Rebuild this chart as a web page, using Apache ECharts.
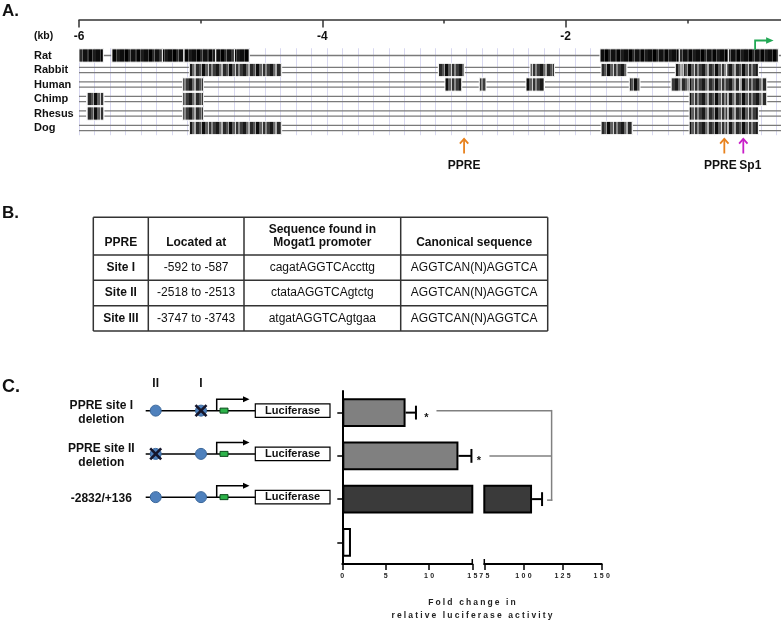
<!DOCTYPE html>
<html><head><meta charset="utf-8">
<script src="https://cdn.jsdelivr.net/npm/echarts@6/dist/echarts.min.js"></script>
<style>html,body{margin:0;padding:0;background:#fff}#c{width:781px;height:623px}</style>
</head><body><div id="c"></div>
<script>
// ---------- Panel A data ----------
const species = ['Rat', 'Rabbit', 'Human', 'Chimp', 'Rhesus', 'Dog'];
const ratBlocks    = [[-6.0,-5.80],[-5.731,-5.315],[-5.315,-5.137],[-5.137,-4.876],[-4.876,-4.723],[-4.723,-4.60],[-1.718,-1.066],[-1.066,-0.663],[-0.663,-0.252]];
const rabbitBlocks = [[-5.093,-4.334],[-3.047,-2.833],[-2.293,-2.093],[-1.709,-1.496],[-1.099,-1.034],[-1.034,-0.676],[-0.676,-0.416]];
const humanBlocks  = [[-5.148,-4.978],[-2.992,-2.854],[-2.710,-2.655],[-2.326,-2.174],[-1.477,-1.389],[-1.134,-0.985],[-0.985,-0.567],[-0.567,-0.347]];
const chimpBlocks  = [[-5.937,-5.795],[-5.148,-4.978],[-0.985,-0.665],[-0.665,-0.347]];
const rhesusBlocks = [[-5.937,-5.795],[-5.148,-4.978],[-0.985,-0.665],[-0.665,-0.416]];
const dogBlocks    = [[-5.093,-4.334],[-1.709,-1.452],[-0.985,-0.665],[-0.665,-0.416]];
const kbRange = [-6, 0];
const motifLabels = ['PPRE', 'PPRE', 'Sp1'];
const motifPositions = [-2.835, -0.696, -0.540];
const tssPosition = -0.443;

// ---------- Panel B data ----------
const tableHeader = ['PPRE', 'Located at', 'Sequence found in\nMogat1 promoter', 'Canonical sequence'];
const siteNames = ['Site I', 'Site II', 'Site III'];
const siteLocations = ['-592 to -587', '-2518 to -2513', '-3747 to -3743'];
const siteSequences = ['cagatAGGTCAccttg', 'ctataAGGTCAgtctg', 'atgatAGGTCAgtgaa'];
const canonicalSeqs = ['AGGTCAN(N)AGGTCA', 'AGGTCAN(N)AGGTCA', 'AGGTCAN(N)AGGTCA'];

// ---------- Panel C data ----------
const constructs = ['', '-2832/+136', 'PPRE site II\ndeletion', 'PPRE site I\ndeletion'];
const foldChange = [1.0, 105.5, 13.4, 7.3];
const foldSEM = [0, 6.4, 1.5, 1.2];
const lowRange = [0, 15];
const highRange = [75, 150];

// ---------- styles ----------
const FF = '"Liberation Sans", Arial, Helvetica, sans-serif';
const barColors = ['#ffffff', '#3a3a3a', '#808080', '#808080'];
const speciesTexture = [0, 1, 1, 1, 1, 1];
const darkStripes = [[4,'#0d0d0d'],[1,'#4a4a4a'],[3,'#000'],[2,'#2a2a2a'],[1,'#666'],[4,'#111'],[2,'#3a3a3a'],[3,'#050505'],[1,'#555'],[3,'#1c1c1c']];
const midStripes = [[3,'#1a1a1a'],[2,'#6a6a6a'],[2,'#b0b0b0'],[3,'#2a2a2a'],[2,'#555'],[1,'#a0a0a0'],[3,'#0e0e0e'],[3,'#606060'],[1,'#cfcfcf'],[2,'#333'],[2,'#8a8a8a'],[3,'#3c3c3c']];
function makePattern(stripes) {
  const w = stripes.reduce((a, s) => a + s[0], 0);
  const c = document.createElement('canvas'); c.width = w; c.height = 4;
  const ctx = c.getContext('2d'); let x = 0;
  stripes.forEach(([sw, col]) => { ctx.fillStyle = col; ctx.fillRect(x, 0, sw, 4); x += sw; });
  return c;
}
const patterns = [makePattern(darkStripes), makePattern(midStripes)];
const allBlocks = [ratBlocks, rabbitBlocks, humanBlocks, chimpBlocks, rhesusBlocks, dogBlocks];
const blockData = [];
allBlocks.forEach((bl, row) => bl.forEach(b => blockData.push([b[0], b[1], row, speciesTexture[row]])));

const spaced = (s, sp) => String(s).split('').join(sp);

function renderRow(params, api) {
  const row = api.value(1);
  const a = api.coord([kbRange[0], row]), b = api.coord([kbRange[1], row]);
  const offs = row === 0 ? [0] : [-2.6, 2.6];
  return { type: 'group', children: offs.map(o => ({ type: 'line',
    shape: { x1: a[0], y1: a[1] + o, x2: b[0], y2: b[1] + o },
    style: { stroke: '#7a7a7a', lineWidth: 1.4 } })) };
}
function renderBlock(params, api) {
  const s = api.value(0), e = api.value(1), row = api.value(2), t = api.value(3);
  const p1 = api.coord([s, row]), p2 = api.coord([e, row]);
  const h = api.size([0, 1])[1] * 0.92;
  return { type: 'rect', shape: { x: p1[0], y: p1[1] - h / 2, width: p2[0] - p1[0], height: h },
    style: { fill: { image: patterns[t], repeat: 'repeat' }, stroke: '#fff', lineWidth: 1 } };
}
function errRenderer(lo, hi) {
  return function (params, api) {
    const cat = api.value(0), m = api.value(1), e = api.value(2);
    if (!(e > 0) || m < lo || m + e > hi + 0.5) return null;
    const a = api.coord([m, cat]), b = api.coord([m + e, cat]);
    const h = api.size([0, 1])[1] * 0.32;
    return { type: 'group', children: [
      { type: 'line', shape: { x1: a[0], y1: a[1], x2: b[0], y2: b[1] }, style: { stroke: '#000', lineWidth: 2 } },
      { type: 'line', shape: { x1: b[0], y1: b[1] - h / 2, x2: b[0], y2: b[1] + h / 2 }, style: { stroke: '#000', lineWidth: 2 } }
    ] };
  };
}

const lowAxisLabel = { color: '#222', fontSize: 7, fontWeight: 'bold', fontFamily: FF, margin: 9,
  formatter: v => spaced(v, '\u2004') };

const option = {
  animation: false,
  backgroundColor: '#fff',
  grid: [
    { left: 79, top: 48.25, width: 730, height: 87, outerBoundsMode: 'none', containLabel: false },
    { left: 342.3, top: 391, width: 130, height: 173, outerBoundsMode: 'none', containLabel: false },
    { left: 484.3, top: 391, width: 117.4, height: 173, outerBoundsMode: 'none', containLabel: false }
  ],
  xAxis: [
    { gridIndex: 0, type: 'value', min: kbRange[0], max: kbRange[1], interval: 2, position: 'top', offset: 28.25,
      axisLine: { show: true, lineStyle: { color: '#333', width: 1.5 } },
      axisTick: { show: true, inside: true, length: 7.5, lineStyle: { color: '#333', width: 1.5 } },
      minorTick: { show: true, splitNumber: 2, length: 3.5, lineStyle: { color: '#333', width: 1.5 } },
      axisLabel: { inside: true, margin: 11, color: '#111', fontSize: 12, fontWeight: 'bold', fontFamily: FF },
      splitLine: { show: false } },
    { gridIndex: 0, type: 'value', min: 0, max: 730 / 15.5, interval: 1, position: 'bottom',
      axisLine: { show: false }, axisTick: { show: false }, axisLabel: { show: false },
      splitLine: { show: true, lineStyle: { color: '#d8d8f0', width: 1 } } },
    { gridIndex: 1, type: 'value', min: lowRange[0], max: lowRange[1], interval: 5,
      axisLine: { show: true, onZero: false, lineStyle: { color: '#000', width: 2 } },
      axisTick: { show: true, length: 6, lineStyle: { color: '#000', width: 1.5 } },
      axisLabel: lowAxisLabel, splitLine: { show: false } },
    { gridIndex: 2, type: 'value', min: highRange[0], max: highRange[1], interval: 25,
      axisLine: { show: true, onZero: false, lineStyle: { color: '#000', width: 2 } },
      axisTick: { show: true, length: 6, lineStyle: { color: '#000', width: 1.5 } },
      axisLabel: lowAxisLabel, splitLine: { show: false } }
  ],
  yAxis: [
    { gridIndex: 0, type: 'category', data: species, inverse: true,
      axisLine: { show: false }, axisTick: { show: false }, splitLine: { show: false },
      axisLabel: { align: 'left', margin: 45, color: '#111', fontSize: 11, fontWeight: 'bold', fontFamily: FF } },
    { gridIndex: 1, type: 'category', data: constructs,
      axisLine: { show: true, onZero: false, lineStyle: { color: '#000', width: 2 } },
      axisTick: { show: true, alignWithLabel: true, length: 5, lineStyle: { color: '#000', width: 1.5 } },
      axisLabel: { align: 'center', margin: 241, color: '#111', fontSize: 12, fontWeight: 'bold', fontFamily: FF, lineHeight: 14 },
      splitLine: { show: false } },
    { gridIndex: 2, type: 'category', data: constructs, show: false }
  ],
  series: [
    { type: 'custom', xAxisIndex: 0, yAxisIndex: 0, renderItem: renderRow, encode: { x: 0, y: 1 },
      data: species.map((s, i) => [kbRange[0], i]), silent: true, z: 2 },
    { type: 'custom', xAxisIndex: 0, yAxisIndex: 0, renderItem: renderBlock, encode: { x: [0, 1], y: 2 },
      data: blockData, silent: true, z: 3 },
    { type: 'bar', xAxisIndex: 2, yAxisIndex: 1, barWidth: '66%', clip: true, silent: true,
      itemStyle: { borderColor: '#000', borderWidth: 2 },
      data: foldChange.map((v, i) => ({ value: v, itemStyle: { color: barColors[i] } })) },
    { type: 'bar', xAxisIndex: 3, yAxisIndex: 2, barWidth: '66%', clip: true, silent: true,
      itemStyle: { borderColor: '#000', borderWidth: 2 },
      data: foldChange.map((v, i) => v >= highRange[0] ? { value: v, itemStyle: { color: barColors[i] } } : '-') },
    { type: 'custom', xAxisIndex: 2, yAxisIndex: 1, renderItem: errRenderer(lowRange[0], lowRange[1]),
      encode: { x: 1, y: 0 }, data: foldChange.map((v, i) => [i, v, foldSEM[i]]), silent: true, z: 5 },
    { type: 'custom', xAxisIndex: 3, yAxisIndex: 2, renderItem: errRenderer(highRange[0], highRange[1]),
      encode: { x: 1, y: 0 }, data: foldChange.map((v, i) => [i, v, foldSEM[i]]), silent: true, z: 5 }
  ]
};

const chart = echarts.init(document.getElementById('c'), null, { renderer: 'canvas', width: 781, height: 623 });
chart.setOption(option);

// ---------- annotations (graphic) ----------
const g = [];
const T = (text, x, y, size, bold, align, va, fill, extra, z) => g.push({ type: 'text', silent: true, z: z || 20,
  style: Object.assign({ text, x, y, fill: fill || '#111', textAlign: align || 'center', textVerticalAlign: va || 'middle',
    font: (bold ? 'bold ' : '') + size + 'px ' + FF }, extra || {}) });
const L = (x1, y1, x2, y2, stroke, lw, z) => g.push({ type: 'line', silent: true, z: z || 20,
  shape: { x1, y1, x2, y2 }, style: { stroke, lineWidth: lw } });

// panel letters
T('A.', 2, 11, 17, true, 'left');
T('B.', 2, 213, 17, true, 'left');
T('C.', 2, 387, 18, true, 'left');
T('(kb)', 34, 36, 10.5, true, 'left');

// motif arrows panel A
const motifColors = ['#e8821e', '#e8821e', '#c81ec8'];
const motifDx = [0, -4, 7];
motifPositions.forEach((kb, i) => {
  const x = chart.convertToPixel({ xAxisIndex: 0 }, kb);
  const c = motifColors[i];
  L(x, 138.8, x, 153.5, c, 1.8);
  g.push({ type: 'polyline', silent: true, z: 20, shape: { points: [[x - 4.2, 143.6], [x, 138.8], [x + 4.2, 143.6]] },
    style: { stroke: c, lineWidth: 1.8, fill: null } });
  T(motifLabels[i], x + motifDx[i], 165.7, 12, true);
});
// TSS arrow
{
  const x = chart.convertToPixel({ xAxisIndex: 0 }, tssPosition);
  g.push({ type: 'polyline', silent: true, z: 20, shape: { points: [[x, 50], [x, 40.5], [x + 12, 40.5]] },
    style: { stroke: '#22a855', lineWidth: 1.8, fill: null } });
  g.push({ type: 'polygon', silent: true, z: 20, shape: { points: [[x + 11, 37.3], [x + 18.5, 40.5], [x + 11, 43.7]] },
    style: { fill: '#22a855' } });
}

// table panel B
const colX = [93.3, 148.3, 244, 400.7, 547.7];
const rowY = [217.3, 255, 280.3, 305.7, 331];
colX.forEach(x => L(x, rowY[0], x, rowY[rowY.length - 1], '#333', 1.5));
rowY.forEach(y => L(colX[0], y, colX[colX.length - 1], y, '#333', 1.5));
const colC = colX.slice(0, -1).map((x, i) => (x + colX[i + 1]) / 2);
tableHeader.forEach((h, i) => {
  if (h.indexOf('\n') >= 0) T(h, colC[i], 236.5, 12, true, 'center', 'middle', '#111', { lineHeight: 13 });
  else T(h, colC[i], 243, 12, true);
});
[siteNames, siteLocations, siteSequences, canonicalSeqs].forEach((col, ci) => {
  col.forEach((txt, ri) => T(txt, colC[ci], (rowY[ri + 1] + rowY[ri + 2]) / 2, 12, ci === 0));
});

// panel C diagrams
const siteX = [155.7, 201];
T('II', siteX[0], 384, 12, true);
T('I', siteX[1], 384, 12, true);
const deleted = { 1: [], 2: [0], 3: [1] };
[1, 2, 3].forEach(ci => {
  const ly = chart.convertToPixel({ yAxisIndex: 1 }, ci) - 2;
  L(145.7, ly, 255.3, ly, '#000', 1.5);
  siteX.forEach((sx, si) => {
    g.push({ type: 'circle', silent: true, z: 21, shape: { cx: sx, cy: ly, r: 5.5 },
      style: { fill: '#4f81bd', stroke: '#3b689c', lineWidth: 1 } });
    if (deleted[ci].indexOf(si) >= 0) {
      g.push({ type: 'line', silent: true, z: 22, shape: { x1: sx - 5.5, y1: ly - 5.5, x2: sx + 5.5, y2: ly + 5.5 }, style: { stroke: '#15152a', lineWidth: 2.6 } });
      g.push({ type: 'line', silent: true, z: 22, shape: { x1: sx + 5.5, y1: ly - 5.5, x2: sx - 5.5, y2: ly + 5.5 }, style: { stroke: '#15152a', lineWidth: 2.6 } });
    }
  });
  g.push({ type: 'rect', silent: true, z: 21, shape: { x: 220, y: ly - 2.5, width: 8, height: 5 },
    style: { fill: '#2db34a', stroke: '#0d4d1d', lineWidth: 1 } });
  g.push({ type: 'polyline', silent: true, z: 21, shape: { points: [[216.7, ly], [216.7, ly - 11.5], [244, ly - 11.5]] },
    style: { stroke: '#000', lineWidth: 1.5, fill: null } });
  g.push({ type: 'polygon', silent: true, z: 21, shape: { points: [[243, ly - 14.5], [249.5, ly - 11.5], [243, ly - 8.5]] },
    style: { fill: '#000' } });
  g.push({ type: 'rect', silent: true, z: 21, shape: { x: 255.3, y: ly - 6.7, width: 74.7, height: 13.4 },
    style: { fill: '#fff', stroke: '#000', lineWidth: 1.2 } });
  T('Luciferase', 292.6, ly, 11, true, 'center', 'middle', '#111', null, 23);
});

// significance brackets + asterisks
{
  const brX = chart.convertToPixel({ xAxisIndex: 3 }, 118);
  const yC = [1, 2, 3].map(ci => chart.convertToPixel({ yAxisIndex: 1 }, ci));
  const errEnd2 = chart.convertToPixel({ xAxisIndex: 2 }, foldChange[2] + foldSEM[2]);
  const errEnd3 = chart.convertToPixel({ xAxisIndex: 2 }, foldChange[3] + foldSEM[3]);
  const errEndHi = chart.convertToPixel({ xAxisIndex: 3 }, foldChange[1] + foldSEM[1]);
  const gray = '#808080';
  L(errEnd3 + 20.5, yC[2] - 2, brX, yC[2] - 2, gray, 1.5);
  L(errEnd2 + 18, yC[1], brX, yC[1], gray, 1.5);
  L(brX, yC[2] - 2.7, brX, yC[0] + 1.7, gray, 1.5);
  L(errEndHi + 5, yC[0] + 1, brX + 0.7, yC[0] + 1, gray, 1.5);
  T('*', errEnd3 + 10.5, yC[2] + 5, 11, true);
  T('*', errEnd2 + 7.5, yC[1] + 5, 11, true);
  // axis break marks
  const b1 = chart.convertToPixel({ xAxisIndex: 2 }, lowRange[1]);
  const b2 = chart.convertToPixel({ xAxisIndex: 3 }, highRange[0]);
  L(b1, 559, b1, 565, '#000', 1.5);
  L(b2, 559, b2, 565, '#000', 1.5);
  // axis title
  const tx = (chart.convertToPixel({ xAxisIndex: 2 }, lowRange[0]) + chart.convertToPixel({ xAxisIndex: 3 }, highRange[1])) / 2;
  T(spaced('Fold change in', '\u2005'), tx, 603, 8.5, true, 'center', 'middle', '#222');
  T(spaced('relative luciferase activity', '\u2005'), tx, 616, 8.5, true, 'center', 'middle', '#222');
}
chart.setOption({ graphic: g });
</script>
</body></html>
